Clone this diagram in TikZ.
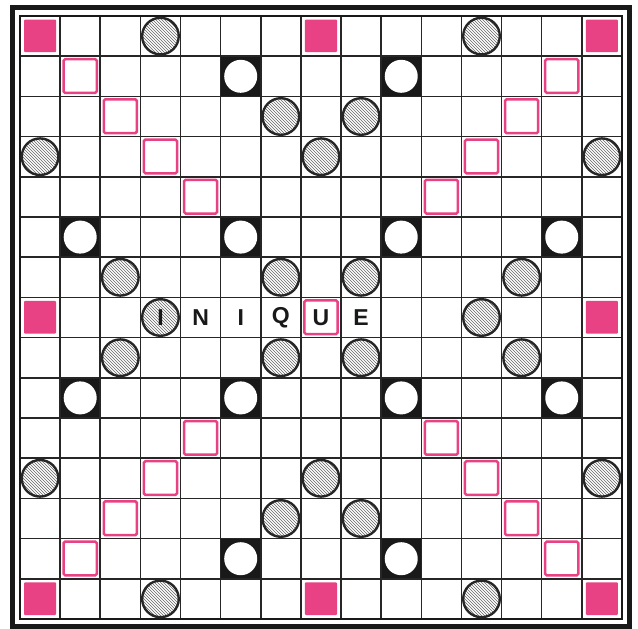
\documentclass[tikz,border=0pt]{standalone}
\usepackage{fontspec}
\setsansfont{Liberation Sans}
\usetikzlibrary{patterns}
\definecolor{boardpink}{RGB}{232,66,132}
\begin{document}
\begin{tikzpicture}[x=1pt,y=-1pt,
  gridline/.style={line width=1.6pt,black!85},
  frame/.style={line width=5pt,black!90},
  twsq/.style={fill=boardpink,rounded corners=1pt},
  dwsq/.style={draw=boardpink,line width=2.5pt,rounded corners=1.5pt},
  tlsq/.style={fill=black!90},
  tlhole/.style={fill=white},
  dlcirc/.style={draw=black!85,line width=2.4pt,pattern=north west lines,pattern color=black!60},
  letter/.style={font=\sffamily\bfseries\fontsize{23}{23}\selectfont,inner sep=0pt,text=black!90}]
\def\cx{40.13}
\def\cy{40.2}
\useasboundingbox (0,0) rectangle (638,629);
\fill[white] (0,0) rectangle (638,629);
% outer frame
\draw[frame] (12,7) rectangle (629,626);
% triple letter: black squares
\foreach \r/\c in {1/5,1/9,5/1,5/5,5/9,5/13,9/1,9/5,9/9,9/13,13/5,13/9}
  \fill[tlsq] ({20+\c*\cx},{16+\r*\cy}) rectangle ++(\cx,\cy);
% triple word: filled pink
\foreach \r/\c in {0/0,0/7,0/14,7/0,7/14,14/0,14/7,14/14}
  \fill[twsq] ({20+\c*\cx+4},{16+\r*\cy+3.5}) rectangle ++({\cx-8},{\cy-7.5});
% grid
\foreach \i in {0,...,15} {
  \draw[gridline] ({20+\i*\cx},16) -- ({20+\i*\cx},{16+15*\cy});
  \draw[gridline] (20,{16+\i*\cy}) -- ({20+15*\cx},{16+\i*\cy});
}
\draw[line width=2pt,black!90] (20,16) rectangle ({20+15*\cx},{16+15*\cy});
% triple letter holes
\foreach \r/\c in {1/5,1/9,5/1,5/5,5/9,5/13,9/1,9/5,9/9,9/13,13/5,13/9}
  \fill[tlhole] ({20+(\c+0.5)*\cx},{16+(\r+0.5)*\cy}) circle (16.5);
% double word: pink outlines
\foreach \r/\c in {1/1,2/2,3/3,4/4,1/13,2/12,3/11,4/10,7/7,10/4,11/3,12/2,13/1,10/10,11/11,12/12,13/13}
  \draw[dwsq] ({20+\c*\cx+3.5},{16+\r*\cy+3}) rectangle ++({\cx-7},{\cy-6.5});
% double letter: hatched circles
\foreach \r/\c in {0/3,0/11,2/6,2/8,3/0,3/7,3/14,6/2,6/6,6/8,6/12,7/3,7/11,8/2,8/6,8/8,8/12,11/0,11/7,11/14,12/6,12/8,14/3,14/11}
  \draw[dlcirc] ({20+(\c+0.5)*\cx},{16+(\r+0.5)*\cy}) circle (18.3);
% letters
\foreach \c/\t/\n in {3/I/la,4/N/lb,5/I/lc,6/Q/ld,7/U/le,8/E/lf}
  \node[letter] (\n) at ({20+(\c+0.5)*\cx},{16+(7+0.5)*\cy}) {\t};
\end{tikzpicture}
\end{document}
